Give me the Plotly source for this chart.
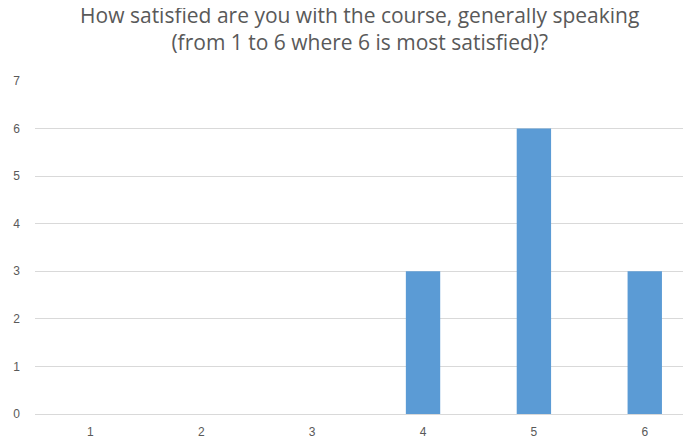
import plotly.graph_objects as go

categories = ["1", "2", "3", "4", "5", "6"]
counts = [0, 0, 0, 3, 6, 3]
title_lines = ["How satisfied are you with the course, generally speaking",
               "(from 1 to 6 where 6 is most satisfied)?"]

fig = go.Figure(go.Bar(x=categories, y=counts, marker=dict(color="#5B9BD5", line=dict(width=0))))

fig.update_layout(
    width=683, height=433,
    margin=dict(l=27, r=3, t=73, b=27),
    paper_bgcolor="white", plot_bgcolor="white",
    bargap=0.69,
    showlegend=False,
    font=dict(family="Liberation Sans, Arial, sans-serif", color="#595959"),
    title=dict(text="<br>".join(title_lines), x=0.515, xanchor="center", y=0.965, yanchor="top",
               pad=dict(t=0),
               font=dict(size=21, color="#595959", family="Open Sans, sans-serif")),
)
fig.update_xaxes(type="category", range=[-0.5, 5.39], showgrid=False, showline=False,
                 ticks="", tickfont=dict(size=12, color="#595959"), ticklabelstandoff=9)
fig.update_yaxes(range=[0, 7], dtick=1, showgrid=True, gridcolor="#D9D9D9", gridwidth=1,
                 zeroline=True, zerolinecolor="#D9D9D9", zerolinewidth=1, showline=False,
                 ticks="", tickfont=dict(size=12, color="#595959"), ticklabelstandoff=14)

fig.write_html("out.html")
